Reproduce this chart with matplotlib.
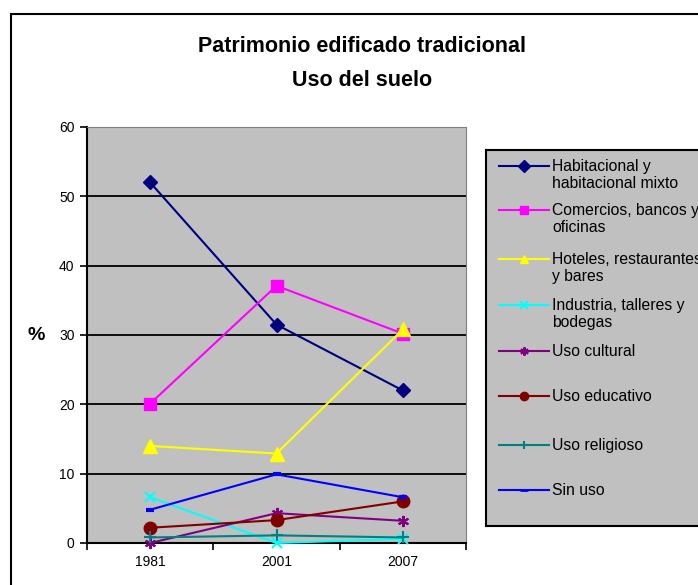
import matplotlib
matplotlib.use("Agg")
import matplotlib.pyplot as plt
from matplotlib.patches import Rectangle
from matplotlib.lines import Line2D

plt.rcParams["font.family"] = ["Liberation Sans", "DejaVu Sans"]

years = ["1981", "2001", "2007"]
series_names = [
    "Habitacional y\nhabitacional mixto",
    "Comercios, bancos y\noficinas",
    "Hoteles, restaurantes\ny bares",
    "Industria, talleres y\nbodegas",
    "Uso cultural",
    "Uso educativo",
    "Uso religioso",
    "Sin uso",
]
habitacional = [52.0, 31.5, 22.0]
comercios = [20.1, 37.1, 30.2]
hoteles = [14.0, 12.9, 30.8]
industria = [6.6, 0.0, 0.6]
cultural = [0.0, 4.3, 3.2]
educativo = [2.2, 3.3, 6.0]
religioso = [0.8, 1.1, 0.8]
sin_uso = [4.8, 9.9, 6.6]
all_values = [habitacional, comercios, hoteles, industria,
              cultural, educativo, religioso, sin_uso]
y_ticks = [0, 10, 20, 30, 40, 50, 60]

colors = ["#000080", "#FF00FF", "#FFFF00", "#00FFFF",
          "#800080", "#800000", "#008080", "#0000FF"]
markers = ["D", "s", "^", "x", (6, 2, 0), "o", "+", "_"]
msizes = [7, 8, 10, 7, 8, 9, 9, 6]
mews = [1, 1, 1, 1.5, 1.5, 1, 1.5, 3]

fig = plt.figure(figsize=(6.98, 5.85), dpi=100)

# outer chart border
fig.patches.append(Rectangle((11 / 698, -0.1), 1.2, 1.1 - 14 / 585,
                             transform=fig.transFigure, fill=False,
                             edgecolor="black", linewidth=1.5))

ax = fig.add_axes([87 / 698, 42 / 585, 379 / 698, 416 / 585])
ax.set_facecolor("#C0C0C0")
xs = range(len(years))
for vals, c, m, ms, mew in zip(all_values, colors, markers, msizes, mews):
    ax.plot(xs, vals, color=c, marker=m, markersize=ms, markeredgewidth=mew,
            markerfacecolor=c, markeredgecolor=c, linewidth=1.5, zorder=3,
            clip_on=False)

ax.set_ylim(0, 60)
ax.set_xlim(-0.5, 2.5)
ax.set_yticks(y_ticks)
ax.set_yticklabels([str(t) for t in y_ticks], fontsize=10)
for t in y_ticks[1:-1]:
    ax.axhline(t, color="black", linewidth=1.3, zorder=1)
ax.set_xticks([-0.5, 0.5, 1.5, 2.5])
ax.set_xticklabels([])
ax.set_xticks(list(xs), minor=True)
ax.set_xticklabels(years, minor=True, fontsize=10)
ax.tick_params(axis="x", which="minor", length=0, pad=9)
ax.tick_params(axis="x", which="major", length=5, direction="out", width=1.2)
ax.tick_params(axis="y", length=5, width=1.2, pad=4)
ax.spines["left"].set_linewidth(1.5)
ax.spines["bottom"].set_linewidth(1.5)
ax.spines["top"].set_color("#808080")
ax.spines["right"].set_color("#808080")
ax.set_ylabel("%", fontsize=14, fontweight="bold", rotation=0, labelpad=16,
              va="center")

fig.text(362 / 698, 1 - 47 / 585, "Patrimonio edificado tradicional",
         ha="center", va="center", fontsize=15.5, fontweight="bold")
fig.text(362 / 698, 1 - 81 / 585, "Uso del suelo",
         ha="center", va="center", fontsize=15.5, fontweight="bold")

# legend box
lax = fig.add_axes([486 / 698, 59 / 585, 220 / 698, 376 / 585])
lax.set_facecolor("#C0C0C0")
lax.set_xlim(0, 220)
lax.set_ylim(526, 150)
lax.set_xticks([])
lax.set_yticks([])
for s in lax.spines.values():
    s.set_linewidth(1.5)
entry_y = [166, 210, 259, 305, 351, 396, 445, 490]
for name, y, c, m, mew in zip(series_names, entry_y, colors, markers, mews):
    lax.add_line(Line2D([13, 63], [y, y], color=c, linewidth=1.5))
    lax.add_line(Line2D([38], [y], color=c, marker=m, markersize=6,
                        markeredgewidth=min(mew, 2), markerfacecolor=c,
                        markeredgecolor=c))
    lax.text(66, y - 7, name, ha="left", va="top", fontsize=11.3,
             linespacing=1.15)

fig.savefig("out.png", dpi=100)
